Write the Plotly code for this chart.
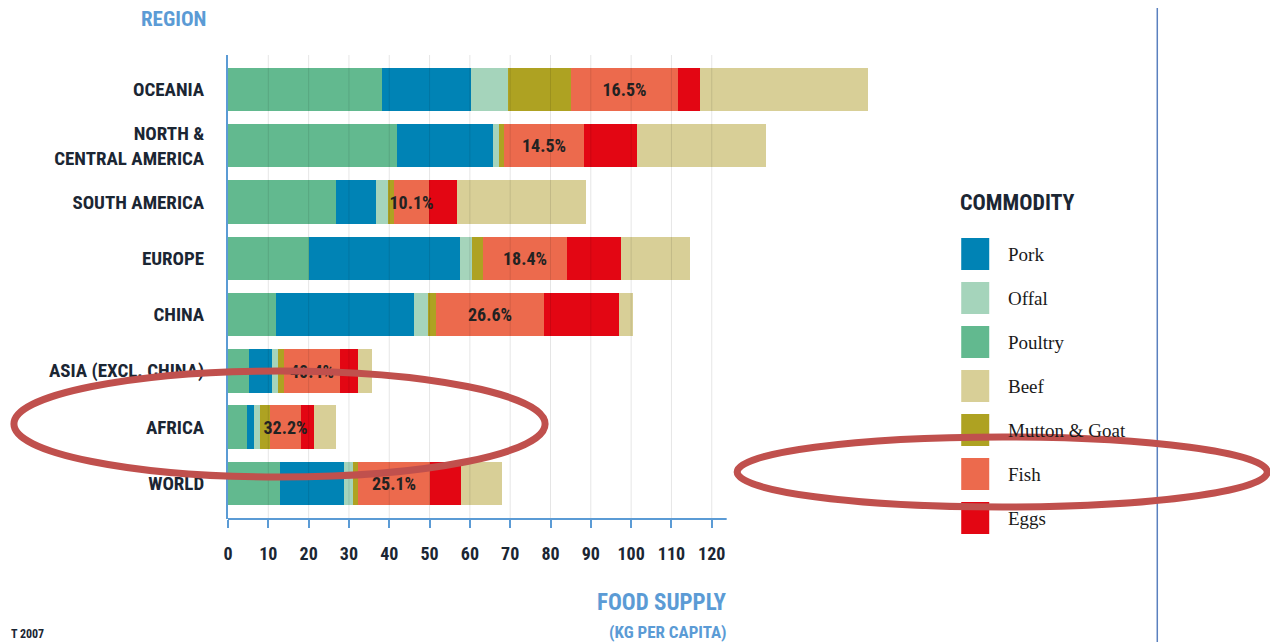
import plotly.graph_objects as go

# ---------------- data ----------------
regions = ["OCEANIA", "NORTH &<br>CENTRAL AMERICA", "SOUTH AMERICA", "EUROPE",
           "CHINA", "ASIA (EXCL. CHINA)", "AFRICA", "WORLD"]
poultry = [38.1, 41.8, 26.8, 20.2, 12.0, 5.3, 4.7, 13.0]
pork    = [22.2, 23.9, 9.8, 37.3, 34.2, 5.5, 1.8, 15.7]
offal   = [9.2, 1.4, 3.1, 3.0, 3.4, 1.6, 1.5, 2.4]
mutton  = [15.5, 1.3, 1.5, 2.7, 2.0, 1.5, 2.4, 1.2]
fish    = [26.6, 19.8, 8.7, 21.0, 26.8, 13.8, 7.8, 17.8]
eggs    = [5.5, 13.2, 7.0, 13.2, 18.5, 4.6, 3.1, 7.7]
beef    = [41.7, 32.0, 31.8, 17.1, 3.6, 3.4, 5.5, 10.2]
fish_share = ["16.5%", "14.5%", "10.1%", "18.4%", "26.6%", "40.4%", "32.2%", "25.1%"]
x_ticks = list(range(0, 121, 10))

stack_order = ["Poultry", "Pork", "Offal", "Mutton & Goat", "Fish", "Eggs", "Beef"]
legend_order = ["Pork", "Offal", "Poultry", "Beef", "Mutton & Goat", "Fish", "Eggs"]
series = {"Poultry": poultry, "Pork": pork, "Offal": offal, "Mutton & Goat": mutton,
          "Fish": fish, "Eggs": eggs, "Beef": beef}
colors = {"Poultry": "#62b98f", "Pork": "#0083b5", "Offal": "#a5d4bb",
          "Mutton & Goat": "#aea222", "Fish": "#ec6a4d", "Eggs": "#e30613",
          "Beef": "#d8cf97"}

# ---------------- layout geometry ----------------
# page pixels (as seen in the browser); the page body has an 8px margin
W, H = 1278, 642
OFF = 8
L_PG, T_PG, B_PG = 228, 55, 519
X_MAX = 160
PX_UNIT = 4.03
R_PG = L_PG + X_MAX * PX_UNIT
BLUE = "#5b9bd5"
NARROW = "Liberation Sans Narrow, Roboto Condensed, Roboto, sans-serif"
SERIF = "Liberation Serif, DejaVu Serif, serif"


def px(xp):
    return (xp - L_PG) / (R_PG - L_PG)


def py(yp):
    return (B_PG - yp) / (B_PG - T_PG)


# bases for overlay stacking
bases = {}
run = [0.0] * len(regions)
for name in stack_order:
    bases[name] = list(run)
    run = [a + b for a, b in zip(run, series[name])]

fig = go.Figure()
draw_order = ["Poultry", "Pork", "Offal", "Mutton & Goat", "Eggs", "Beef", "Fish"]
for name in draw_order:
    kw = {}
    if name == "Fish":
        kw = dict(text=fish_share, textposition="inside", insidetextanchor="middle",
                  constraintext="none", cliponaxis=False, textangle=0,
                  textfont=dict(family=NARROW, size=18, color="#222222", weight="bold"))
    fig.add_trace(go.Bar(
        y=regions, x=series[name], base=bases[name], orientation="h", name=name,
        marker=dict(color=colors[name], line=dict(width=0)), width=0.773,
        showlegend=False, hoverinfo="x+name", **kw))

shapes = []
# gridlines drawn over bars
for v in x_ticks[1:]:
    shapes.append(dict(type="line", xref="x", yref="paper", x0=v, x1=v, y0=0, y1=1,
                       line=dict(color="rgba(0,0,0,0.10)", width=1), layer="above"))
# x axis line (shorter than the plot width)
shapes.append(dict(type="line", xref="x", yref="paper", x0=-1.7, x1=123.7, y0=0, y1=0,
                   line=dict(color=BLUE, width=2), layer="above"))
# right divider
shapes.append(dict(type="line", xref="paper", yref="paper", x0=px(1157), x1=px(1157),
                   y0=py(-10), y1=py(660), line=dict(color="#5a80bf", width=1.5)))
# legend swatches
annotations = []
leg_y0 = 254
for i, name in enumerate(legend_order):
    cy = leg_y0 + i * 44
    shapes.append(dict(type="rect", xref="paper", yref="paper",
                       x0=px(961), x1=px(989), y0=py(cy - 16), y1=py(cy + 16),
                       fillcolor=colors[name], line=dict(width=0)))
    annotations.append(dict(xref="paper", yref="paper", x=px(1006), y=py(cy),
                            xanchor="left", yanchor="middle", text=name, showarrow=False,
                            font=dict(family=SERIF, size=19, color="#1a1a1a")))
# red highlight ellipses
shapes.append(dict(type="circle", xref="paper", yref="paper",
                   x0=px(14), x1=px(545), y0=py(371), y1=py(477),
                   line=dict(color="#c0504d", width=7), layer="above"))
shapes.append(dict(type="circle", xref="paper", yref="paper",
                   x0=px(737), x1=px(1267), y0=py(437), y1=py(507),
                   line=dict(color="#c0504d", width=7), layer="above"))

annotations += [
    dict(xref="paper", yref="paper", x=px(958), y=py(202), xanchor="left", yanchor="middle",
         text="COMMODITY", showarrow=False,
         font=dict(family=NARROW, size=22, color="#1b2633", weight="bold")),
    dict(xref="paper", yref="paper", x=px(208), y=py(19), xanchor="right", yanchor="middle",
         text="REGION", showarrow=False,
         font=dict(family=NARROW, size=21, color=BLUE, weight="bold")),
    dict(xref="paper", yref="paper", x=px(729), y=py(602), xanchor="right", yanchor="middle",
         text="FOOD SUPPLY", showarrow=False,
         font=dict(family=NARROW, size=23, color=BLUE, weight="bold")),
    dict(xref="paper", yref="paper", x=px(729), y=py(632), xanchor="right", yanchor="middle",
         text="(KG PER CAPITA)", showarrow=False,
         font=dict(family=NARROW, size=17, color=BLUE, weight="bold")),
    dict(xref="paper", yref="paper", x=px(OFF + 1), y=py(634), xanchor="left", yanchor="middle",
         text="T 2007", showarrow=False,
         font=dict(family=NARROW, size=12, color="#1b2633", weight="bold")),
]

fig.update_layout(
    width=W, height=H,
    margin=dict(l=L_PG - OFF, t=T_PG - OFF, b=H - (B_PG - OFF), r=W - (R_PG - OFF), pad=0),
    paper_bgcolor="white", plot_bgcolor="white",
    barmode="overlay", bargap=0,
    shapes=shapes, annotations=annotations,
    xaxis=dict(range=[0, X_MAX], tickvals=x_ticks, showgrid=False, zeroline=False,
               showline=False, ticks="outside", ticklen=8, tickwidth=1.5, tickcolor=BLUE,
               ticklabelstandoff=10,
               tickfont=dict(family=NARROW, size=18, color="#1b2633", weight="bold")),
    yaxis=dict(categoryorder="array", categoryarray=regions, range=[7.635, -0.613],
               showgrid=False, zeroline=False, showline=True, linecolor=BLUE, linewidth=2,
               ticks="", ticklabelstandoff=18,
               tickfont=dict(family=NARROW, size=19, color="#1b2633", weight="bold")),
)

fig.write_html("out.html")
